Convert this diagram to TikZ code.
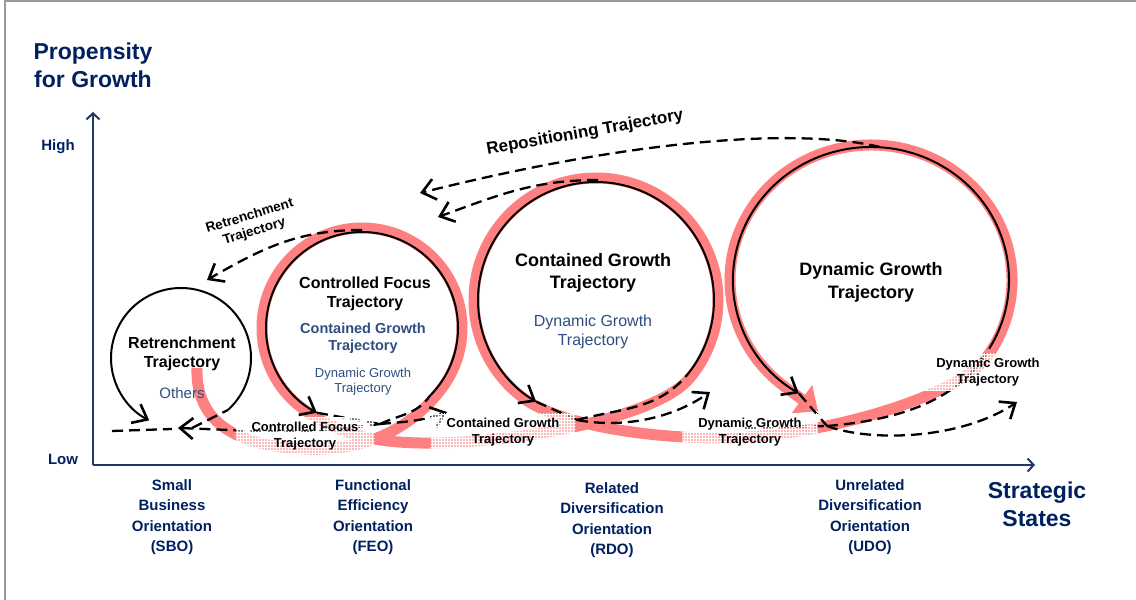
\documentclass[tikz,border=0pt]{standalone}
\usepackage{fontspec}
\setmainfont{Liberation Sans}
\usetikzlibrary{arrows.meta,patterns}

\definecolor{navy}{RGB}{0,32,96}
\definecolor{axisblue}{RGB}{31,56,100}
\definecolor{softblue}{RGB}{47,77,128}
\definecolor{coil}{RGB}{255,128,128}

\newcommand{\fs}[2]{\fontsize{#1}{#2}\selectfont}

\begin{document}
\begin{tikzpicture}[x=1pt,y=1pt,
    lbl/.style={align=center,inner sep=0pt},
    axistitle/.style={lbl,text=navy,font=\bfseries\fs{23}{28}},
    ticklbl/.style={lbl,text=navy,font=\bfseries\fs{15}{18}},
    statelbl/.style={lbl,text=navy,font=\bfseries\fs{15}{20.5}},
    axisline/.style={axisblue,line width=2pt,-{Straight Barb[length=6pt,width=13pt]}},
    orbit/.style={line width=2pt,-{Straight Barb[length=13pt,width=21pt,line width=2.6pt]}},
    dashmove/.style={line width=2.3pt,dash pattern=on 11pt off 6pt},
    movearrow/.style={dashmove,-{Straight Barb[length=13pt,width=21pt,line width=2.6pt]}},
    traj/.style={lbl,font=\bfseries\fs{13}{16},inner xsep=16pt,inner ysep=4pt,
        preaction={fill=white,fill opacity=.45},pattern=grid,pattern color=white}]
  \useasboundingbox (0,0) rectangle (1136,600);
  \draw[gray!80,line width=1.2pt] (5,0) -- (5,599) -- (1136,599);

  % axes
  \coordinate (o) at (93,135);
  \coordinate (ytop) at (93,488);
  \coordinate (xend) at (1035,135);
  \draw[axisline] (o) -- (ytop);
  \draw[axisline] (o) -- (xend);
  \node[axistitle] (ytitle) at (93,535) {Propensity\\for Growth};
  \node[ticklbl] (high) at (58,453) {High};
  \node[ticklbl] (low) at (63,141) {Low};
  \node[axistitle] (xtitle) at (1037,96) {Strategic\\States};
  \node[statelbl] (sbo) at (172,83) {Small\\Business\\Orientation\\(SBO)};
  \node[statelbl] (feo) at (373,83) {Functional\\Efficiency\\Orientation\\(FEO)};
  \node[statelbl] (rdo) at (612,80) {Related\\Diversification\\Orientation\\(RDO)};
  \node[statelbl] (udo) at (870,83) {Unrelated\\Diversification\\Orientation\\(UDO)};

  % loop centres and crossing points
  \coordinate (retc) at (181,242);
  \coordinate (cfc) at (362,272);
  \coordinate (cgc) at (596,300);
  \coordinate (dync) at (871,320);
  \coordinate (retx) at (192,172);
  \coordinate (cfx) at (380,176);
  \coordinate (cgx) at (577,180);
  \coordinate (dynx) at (827,174);

  % the red growth coil
  \coordinate (coilstart) at (197,232);
  \coordinate (coilend) at (818,189);
  \draw[coil,line width=11pt,-{Triangle[length=20pt,width=34pt]}]
    (coilstart) .. controls (195,170) and (250,150) .. (320,151)
    .. controls (380,152) and (421,182) .. ([shift={(-35:100)}]cfc)
    arc[start angle=-35,end angle=235,radius=100]
    .. controls (337,167) and (370,158) .. (420,157)
    .. controls (520,156) and (657,183) .. ([shift={(-40:122)}]cgc)
    arc[start angle=-40,end angle=235,radius=122]
    .. controls (559,177) and (640,162) .. (720,162)
    .. controls (820,162) and (957,203) .. ([shift={(-35:141 and 135)}]dync)
    arc[start angle=-35,end angle=232,x radius=141,y radius=135]
    -- (coilend);

  % solid loops
  \draw[orbit] ([shift={(-48:70)}]retc) coordinate (retstart)
    arc[start angle=-48,end angle=243,radius=70] coordinate (retend);
  \draw[orbit] ([shift={(-45:96)}]cfc) coordinate (cfstart)
    arc[start angle=-45,end angle=242,radius=96] coordinate (cfend);
  \draw[orbit] ([shift={(-39:118)}]cgc) coordinate (cgstart)
    arc[start angle=-39,end angle=239.5,radius=118] coordinate (cgend);
  \draw[orbit] ([shift={(-31:138 and 133)}]dync) coordinate (dynstart)
    arc[start angle=-31,end angle=238.5,x radius=138,y radius=133] coordinate (dynend);

  % dashed lead-ins and tails
  \draw[dashmove] (retx) -- (retstart);
  \draw[dashmove] (cfx) to[out=25,in=235] (cfstart);
  \draw[dashmove] (cgx) to[out=15,in=230] (cgstart);
  \draw[dashmove] (dynx) .. controls (900,180) and (960,200) .. (dynstart);
  \draw[dashmove] (cfend) -- (cfx);
  \draw[dashmove] (cgend) -- (cgx);
  \draw[dashmove] (dynend) -- (dynx);

  % moves between states
  \coordinate (sboleft) at (112,169);
  \coordinate (sbomid) at (172,171);
  \coordinate (sbotip) at (178,172);
  \coordinate (rdotip) at (447,188);
  \coordinate (udotip) at (710,208);
  \coordinate (udofar) at (745,172);
  \coordinate (outtip) at (1017,198);
  \draw[dashmove] (sboleft) -- (sbomid);
  \draw[movearrow] (cfx) to[out=188,in=-2] (sbotip);
  \draw[movearrow] (cfx) to[out=5,in=200] (rdotip);
  \draw[movearrow] (cgx) .. controls (620,172) and (670,180) .. (udotip);
  \draw[dashmove] (udofar) -- (dynx);
  \draw[movearrow] (dynx) .. controls (870,158) and (960,160) .. (outtip);

  % moves back to earlier states
  \coordinate (dyntop) at (880,453);
  \coordinate (cgtop) at (598,420);
  \coordinate (cftop) at (362,370);
  \coordinate (backhigh) at (420,407);
  \coordinate (backlow) at (438,383);
  \coordinate (backsbo) at (207,320);
  \draw[movearrow] (dyntop) .. controls (800,472) and (640,462) .. (backhigh);
  \draw[movearrow] (cgtop) to[out=180,in=20] (backlow);
  \draw[movearrow] (cftop) to[out=180,in=30] (backsbo);

  % move labels along the bottom
  \node[traj] (cfmove) at (305,164) {Controlled Focus\\Trajectory};
  \node[traj] (cgmove) at (503,168) {Contained Growth\\Trajectory};
  \node[traj] (dynmove) at (750,168) {Dynamic Growth\\Trajectory};
  \node[traj] (dynstay) at (988,228) {Dynamic Growth\\Trajectory};

  % loop texts
  \node[lbl,font=\bfseries\fs{16}{19}] (rettxt) at (182,246) {Retrenchment\\Trajectory};
  \node[lbl,text=softblue,font=\fs{15}{18}] (others) at (182,207) {Others};
  \node[lbl,font=\bfseries\fs{16}{18.5}] (cftxt) at (365,306) {Controlled Focus\\Trajectory};
  \node[lbl,text=softblue,font=\bfseries\fs{14.5}{17}] (cfcg) at (363,262) {Contained Growth\\Trajectory};
  \node[lbl,text=softblue,font=\fs{13}{15}] (cfdyn) at (363,218) {Dynamic Growth\\Trajectory};
  \node[lbl,font=\bfseries\fs{18}{22}] (cgtxt) at (593,327) {Contained Growth\\Trajectory};
  \node[lbl,text=softblue,font=\fs{16}{19}] (cgdyn) at (593,268) {Dynamic Growth\\Trajectory};
  \node[lbl,font=\bfseries\fs{18}{23}] (dyntxt) at (871,318) {Dynamic Growth\\Trajectory};
  \node[lbl,font=\bfseries\fs{17}{20},rotate=10] (repos) at (585,467) {Repositioning Trajectory};
  \node[lbl,font=\bfseries\fs{13.5}{16},rotate=17] (retrench) at (252,376) {Retrenchment\\Trajectory};
\end{tikzpicture}
\end{document}
